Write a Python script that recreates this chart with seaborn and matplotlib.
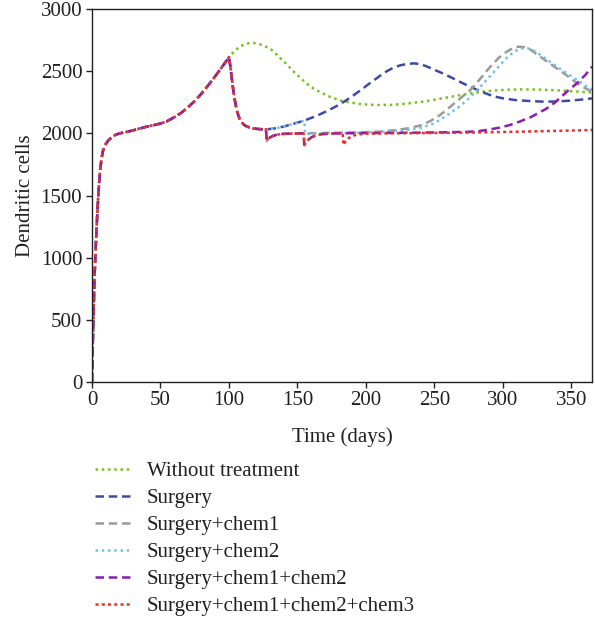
import numpy as np
import pandas as pd
import matplotlib
matplotlib.use("Agg")
import matplotlib.pyplot as plt
import seaborn as sns

# ---- data ----
labels = ["Without treatment", "Surgery", "Surgery+chem1", "Surgery+chem2",
          "Surgery+chem1+chem2", "Surgery+chem1+chem2+chem3"]

# common growth phase (days 0-100)
base_t = [0, 0.5, 1, 1.5, 2, 3, 4, 5, 6, 7, 8, 10, 12, 14, 17, 20, 25, 30, 35, 40,
          45, 50, 55, 60, 65, 70, 75, 80, 85, 90, 95, 100]
base_v = [0, 260, 490, 700, 880, 1150, 1380, 1570, 1710, 1800, 1860, 1915, 1945, 1965,
          1988, 2000, 2012, 2025, 2040, 2055, 2067, 2080, 2100, 2130, 2165, 2210, 2262,
          2322, 2390, 2462, 2537, 2615]

# without treatment after day 100
green_t = [104, 108, 112, 116, 120, 124, 128, 132, 137, 142, 147, 152, 157, 162, 167,
           172, 177, 181, 188, 195, 202, 210, 218, 226, 234, 242, 250, 258, 266, 276,
           285, 295, 305, 315, 325, 335, 345, 355, 365]
green_v = [2665, 2700, 2722, 2730, 2727, 2714, 2694, 2667, 2612, 2558, 2500, 2448, 2400,
           2360, 2330, 2303, 2282, 2266, 2250, 2238, 2232, 2229, 2230, 2236, 2246, 2257,
           2272, 2288, 2303, 2323, 2337, 2347, 2353, 2355, 2354, 2350, 2344, 2337, 2330]

# surgery drop (day 100-127), shared by all treated groups
post_t = [101, 102, 103, 104, 105, 106, 107, 108, 110, 112, 115, 118, 122, 127]
post_v = [2540, 2450, 2360, 2285, 2225, 2175, 2140, 2112, 2080, 2062, 2048, 2040, 2035, 2033]

# surgery only, 127-155 (shared with chem2)
surg_mid_t = [132, 137, 142, 147, 152, 155]
surg_mid_v = [2038, 2048, 2062, 2078, 2094, 2104]

# surgery only, after 155
surg_late_t = [160, 165, 170, 175, 181, 186, 191, 196, 201, 206, 210, 215, 220, 225, 230,
               235, 240, 245, 250, 255, 260, 265, 270, 275, 280, 285, 290, 295, 300, 305,
               310, 320, 330, 340, 350, 360, 365]
surg_late_v = [2125, 2147, 2173, 2200, 2235, 2270, 2308, 2348, 2390, 2430, 2463, 2500, 2530,
               2549, 2560, 2565, 2558, 2537, 2512, 2489, 2463, 2436, 2408, 2382, 2357, 2333,
               2312, 2295, 2283, 2275, 2268, 2261, 2256, 2258, 2265, 2276, 2283]

# chem1 dose at ~day 128 (chem1, chem1+chem2, chem1+chem2+chem3)
dip1_t = [127.5, 128.5, 130, 132, 135, 139, 145, 150, 154.5]
dip1_v = [1942, 1955, 1968, 1980, 1990, 1996, 1999, 2000, 2001]

# Surgery+chem1 after first dose
chem1_t = [160, 170, 180, 190, 200, 210, 220, 230, 240, 247, 254, 261, 268, 276, 283, 290,
           297, 303, 307, 311, 315, 320, 327, 334, 341, 348, 354, 360, 365]
chem1_v = [2002, 2004, 2006, 2008, 2011, 2015, 2025, 2040, 2065, 2100, 2148, 2210, 2275,
           2348, 2435, 2528, 2610, 2660, 2686, 2699, 2696, 2676, 2620, 2565, 2511, 2456,
           2405, 2365, 2336]

# Surgery+chem2 after dose at ~day 155
chem2_t = [155.5, 160, 170, 180, 190, 200, 210, 220, 230, 240, 250, 261, 268, 276, 283,
           290, 297, 303, 308, 313, 318, 322, 327, 334, 341, 348, 354, 360, 365]
chem2_v = [1995, 1998, 2000, 2002, 2004, 2007, 2011, 2018, 2028, 2045, 2082, 2160, 2215,
           2290, 2370, 2455, 2540, 2612, 2658, 2686, 2686, 2670, 2636, 2580, 2525, 2475,
           2431, 2387, 2350]

# second dose at ~day 155 (chem1+chem2, chem1+chem2+chem3)
dip2_t = [155, 156.5, 158, 160, 163, 167, 172, 178, 183]
dip2_v = [1907, 1930, 1950, 1968, 1983, 1993, 1998, 2000, 2001]

# Surgery+chem1+chem2 after 183
cc_t = [190, 200, 220, 240, 260, 276, 283, 290, 298, 305, 312, 320, 326, 332, 338, 344,
        349, 354, 360, 365]
cc_v = [2002, 2003, 2005, 2007, 2010, 2014, 2020, 2032, 2048, 2068, 2095, 2130, 2165, 2202,
        2250, 2310, 2360, 2404, 2470, 2538]

# Surgery+chem1+chem2+chem3 after third dose at ~day 183
ccc_t = [183.5, 185, 187, 190, 194, 200, 220, 250, 280, 310, 340, 365]
ccc_v = [1907, 1935, 1960, 1980, 1992, 1998, 2001, 2004, 2008, 2014, 2021, 2028]

series = {
    labels[0]: (base_t + green_t, base_v + green_v),
    labels[1]: (base_t + post_t + surg_mid_t + surg_late_t,
                base_v + post_v + surg_mid_v + surg_late_v),
    labels[2]: (base_t + post_t + dip1_t + chem1_t,
                base_v + post_v + dip1_v + chem1_v),
    labels[3]: (base_t + post_t + surg_mid_t + chem2_t,
                base_v + post_v + surg_mid_v + chem2_v),
    labels[4]: (base_t + post_t + dip1_t + dip2_t + cc_t,
                base_v + post_v + dip1_v + dip2_v + cc_v),
    labels[5]: (base_t + post_t + dip1_t + dip2_t + ccc_t,
                base_v + post_v + dip1_v + dip2_v + ccc_v),
}
frames = [pd.DataFrame({"Time": t, "Cells": v, "Group": name}) for name, (t, v) in series.items()]
df = pd.concat(frames, ignore_index=True)

colors = ["#76c11d", "#3e4aa6", "#9a9a9a", "#6cc1ea", "#8a1cb0", "#e8302a"]
dash_list = [(1.0, 1.5), (3.4, 1.9), (3.4, 1.9), (1.0, 1.5), (3.4, 1.9), (1.2, 1.3)]
palette = dict(zip(labels, colors))
dashes = dict(zip(labels, dash_list))

# ---- figure ----
sns.set_style("ticks")
plt.rcParams["font.family"] = ["Liberation Serif", "DejaVu Serif"]
plt.rcParams["axes.edgecolor"] = "#231f20"
plt.rcParams["xtick.color"] = "#231f20"
plt.rcParams["ytick.color"] = "#231f20"
plt.rcParams["text.color"] = "#231f20"
plt.rcParams["axes.labelcolor"] = "#231f20"

fig = plt.figure(figsize=(5.95, 6.22), dpi=100)
ax = fig.add_axes([0.1546, 0.3863, 0.8404, 0.5987])

sns.lineplot(data=df, x="Time", y="Cells", hue="Group", style="Group",
             hue_order=labels, style_order=labels, palette=palette, dashes=dashes,
             estimator=None, sort=False, linewidth=1.8, ax=ax)

ax.set_xlim(0, 365)
ax.set_ylim(0, 3000)
ax.set_xticks(range(0, 351, 50))
ax.set_yticks(range(0, 3001, 500))
ax.tick_params(direction="out", length=4, width=1, labelsize=15, pad=3)
for s in ax.spines.values():
    s.set_visible(True)
    s.set_linewidth(1.0)
ax.set_xlabel("Time (days)", fontsize=15, labelpad=12)
ax.set_ylabel("Dendritic cells", fontsize=15, labelpad=4)

sns.move_legend(ax, "upper left", bbox_to_anchor=(0.16, 0.2575),
                bbox_transform=fig.transFigure, frameon=False, title=None,
                fontsize=15, handlelength=1.75, handletextpad=0.72,
                labelspacing=0.355, borderpad=0, borderaxespad=0)

fig.savefig("out.png", dpi=100)
